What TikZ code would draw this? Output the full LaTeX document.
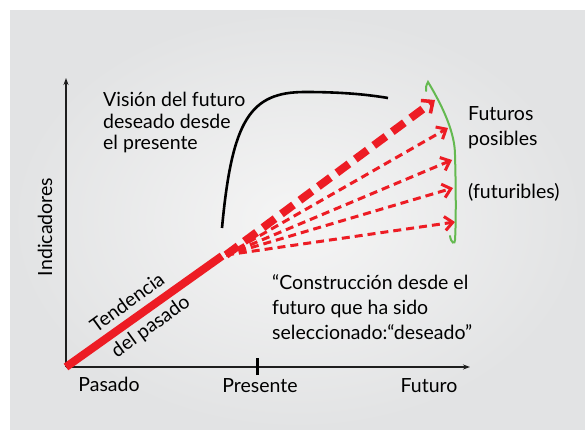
\documentclass[tikz,border=0pt]{standalone}
\usepackage{fontspec}
\setmainfont{Lato}
\usetikzlibrary{arrows.meta}
\definecolor{bgin}{RGB}{245,245,245}
\definecolor{bgout}{RGB}{226,227,228}
\definecolor{myred}{RGB}{237,28,36}
\definecolor{mygreen}{RGB}{100,185,80}
\definecolor{axis}{RGB}{30,30,30}
\tikzset{
  lbl/.style={font=\fontsize{19.5}{21.5}\selectfont, text=black, inner sep=0pt},
  axisline/.style={draw=axis, line width=2pt, -{Stealth[length=7pt,width=5pt]}},
  futarrow/.style={draw=myred, line width=3pt, dash pattern=on 8pt off 5pt,
     -{Straight Barb[length=8pt,width=14pt,line width=3pt]}},
  mainarrow/.style={draw=myred, line width=8pt, dash pattern=on 15pt off 8pt,
     -{Straight Barb[length=9pt,width=16pt,line width=3.5pt]}}
}
\begin{document}
\begin{tikzpicture}[x=1pt,y=-1pt]
\useasboundingbox (0,0) rectangle (585,430);
\shade[inner color=bgin, outer color=bgout] (10,11) rectangle (585,430);
% key points
\coordinate (O) at (66,367);
\coordinate (Ytop) at (66,78);
\coordinate (Xend) at (470,367);
\coordinate (Pres) at (257,367);
\coordinate (P) at (222,256);
\coordinate (S) at (226,255);
\coordinate (F1) at (435,100);
\coordinate (F2) at (448,128);
\coordinate (F3) at (452,160);
\coordinate (F4) at (453,188);
\coordinate (F5) at (455,222);
% axes
\draw[axisline] (O) -- (Ytop);
\draw[axisline] (O) -- (Xend);
\draw[draw=black, line width=3pt] ([yshift=-8pt]Pres) -- ([yshift=9pt]Pres);
% axis labels
\node[lbl] (pasado) at (109,384) {Pasado};
\node[lbl] (presente) at (260,386) {Presente};
\node[lbl] (futuro) at (429,386) {Futuro};
\node[lbl, rotate=90] (ind) at (45,227) {Indicadores};
% past trend
\draw[draw=myred, line width=8pt] (O) -- (P);
\node[lbl, rotate=36] (tend) at (127,302) {Tendencia};
\node[lbl, rotate=36] (delp) at (151,327) {del pasado};
% futures
\draw[futarrow] (S) -- (F2);
\draw[futarrow] (S) -- (F3);
\draw[futarrow] (S) -- (F4);
\draw[futarrow] (S) -- (F5);
\draw[mainarrow] (S) -- (F1);
% vision curve
\coordinate (V0) at (222,228);
\coordinate (V1) at (305,92);
\coordinate (V2) at (388,98);
\draw[line width=2.6pt, black] (V0) .. controls (232,120) and (250,92) .. (V1) .. controls (345,92) and (370,95) .. (V2);
% green bracket
\coordinate (G0) at (426,91);
\coordinate (G1) at (428,82);
\coordinate (G2) at (455,155);
\coordinate (G3) at (455,240);
\coordinate (G4) at (450,236);
\draw[draw=mygreen, line width=2pt, line cap=round] (G0) .. controls (426,86) .. (G1)
  .. controls (445,110) and (455,135) .. (G2)
  .. controls (456,190) and (456,225) .. (G3)
  .. controls (455,245) and (451,243) .. (G4);
% texts
\node[lbl, anchor=north west, align=left] (vision) at (103,92) {Visión del futuro\\deseado desde\\el presente};
\node[lbl, anchor=north west, align=left, font=\fontsize{19.5}{25}\selectfont] (posibles) at (468,106) {Futuros\\posibles};
\node[lbl, anchor=west] (futuribles) at (468,192) {(futuribles)};
\node[lbl, anchor=north west, align=left, font=\fontsize{19.5}{25}\selectfont] (constr) at (272,274) {“Construcción desde el\\futuro que ha sido\\seleccionado:“deseado”};
\end{tikzpicture}
\end{document}
